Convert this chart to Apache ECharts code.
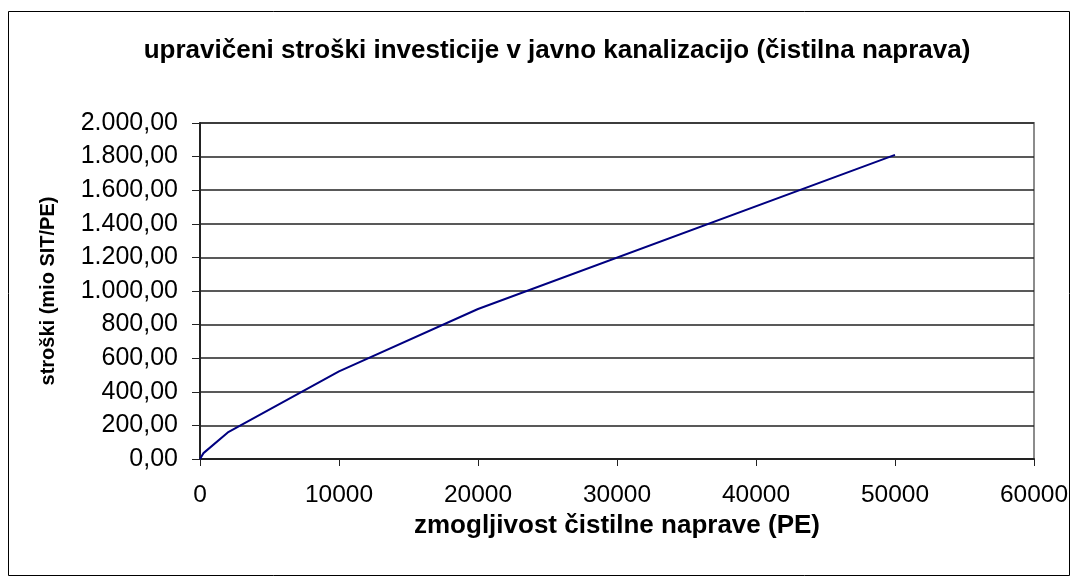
<!DOCTYPE html>
<html>
<head>
<meta charset="utf-8">
<script src="https://cdn.jsdelivr.net/npm/echarts@6/dist/echarts.min.js"></script>
<style>html,body{margin:0;padding:0;background:#fff;}#c{width:1078px;height:583px;}</style>
</head>
<body>
<div id="c"></div>
<script>
var titleText = 'upravičeni stroški investicije v javno kanalizacijo (čistilna naprava)';
var xTitle = 'zmogljivost čistilne naprave (PE)';
var yTitle = 'stroški (mio SIT/PE)';
var capacity = [0, 250, 2000, 10000, 20000, 50000];
var costs = [0, 35, 158, 522, 893, 1810];

function fmt(v) {
  var s = v.toFixed(2).split('.');
  var intPart = s[0].replace(/\B(?=(\d{3})+(?!\d))/g, '.');
  return intPart + ',' + s[1];
}

var chart = echarts.init(document.getElementById('c'));
var font = 'Liberation Sans, Arial, sans-serif';
chart.setOption({
  animation: false,
  backgroundColor: '#fff',
  textStyle: { fontFamily: font },
  title: {
    text: titleText,
    left: 552,
    textAlign: 'center',
    top: 33,
    textStyle: { fontFamily: font, fontSize: 26, fontWeight: 'bold', color: '#000' }
  },
  graphic: [{
    type: 'rect',
    shape: { x: 8.5, y: 11.5, width: 1061, height: 564 },
    style: { fill: 'none', stroke: '#000', lineWidth: 1 },
    z: -1
  }],
  grid: {
    left: 200, right: 44, top: 123, bottom: 124,
    show: true, borderColor: '#8c8c8c', borderWidth: 2, backgroundColor: '#fff'
  },
  xAxis: {
    type: 'value',
    min: 0, max: 60000, interval: 10000,
    name: xTitle,
    nameLocation: 'middle',
    nameGap: 41,
    nameTextStyle: { fontFamily: font, fontSize: 26, fontWeight: 'bold', color: '#000' },
    axisLine: { show: true, lineStyle: { color: '#222', width: 2 } },
    axisTick: { show: true, length: 7, lineStyle: { color: '#222', width: 1 } },
    axisLabel: { fontFamily: font, fontSize: 24.5, color: '#000', margin: 24, formatter: function (v) { return String(v); } },
    splitLine: { show: false }
  },
  yAxis: {
    type: 'value',
    min: 0, max: 2000, interval: 200,
    name: yTitle,
    nameLocation: 'middle',
    nameGap: 142,
    nameTextStyle: { fontFamily: font, fontSize: 20, fontWeight: 'bold', color: '#000' },
    axisLine: { show: true, lineStyle: { color: '#222', width: 2 } },
    axisTick: { show: true, length: 8, lineStyle: { color: '#222', width: 1 } },
    axisLabel: { fontFamily: font, fontSize: 25, color: '#000', margin: 22, formatter: function (v) { return fmt(v); } },
    splitLine: { show: true, lineStyle: { color: '#222', width: 1.5 } }
  },
  series: [{
    type: 'line',
    data: capacity.map(function (x, i) { return [x, costs[i]]; }),
    showSymbol: false,
    symbol: 'none',
    lineStyle: { color: '#000080', width: 2 },
    z: 5
  }]
});
</script>
</body>
</html>
